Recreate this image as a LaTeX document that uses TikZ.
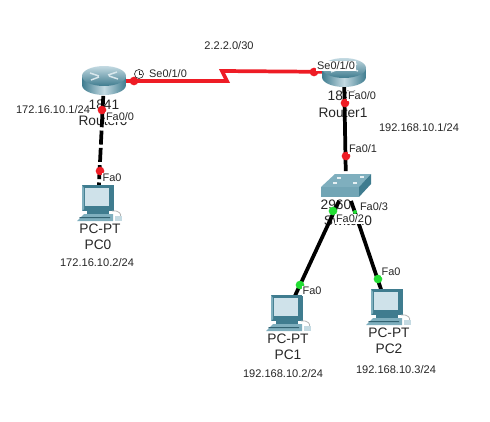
\documentclass[tikz,border=0pt]{standalone}
\usepackage{fontspec}
\setmainfont{Liberation Sans}
\usetikzlibrary{calc,positioning}
\definecolor{link_red}{HTML}{EE1C25}
\definecolor{port_green}{HTML}{22DD33}
\definecolor{dev_dark}{HTML}{3F7C8F}
\definecolor{dev_mid}{HTML}{7FAFBE}
\definecolor{dev_light}{HTML}{C4DAE2}
\definecolor{screen}{HTML}{CFE2EA}
\tikzset{
    DEVICE/.style={inner sep=0pt,minimum width=30pt,minimum height=22pt},
    NAME/.style={inner sep=0pt,font=\fontsize{10.3pt}{11pt}\selectfont,text=black!85},
    PORT/.style={inner sep=0.6pt,fill=white,font=\fontsize{8.2pt}{9pt}\selectfont,text=black!85},
    ADDR/.style={inner sep=0pt,font=\fontsize{8.3pt}{9pt}\selectfont,text=black!85},
    LINK/.style={line width=2.8pt,black},
    SERIAL/.style={line width=2.8pt,link_red},
    REDDOT/.style={circle,fill=link_red,inner sep=0pt,minimum size=6.5pt},
    GREENDOT/.style={circle,fill=port_green,inner sep=0pt,minimum size=6.5pt},
    router/.pic={
        \shade[left color=dev_dark,right color=dev_dark,middle color=dev_light] (-22,-9) -- (-22,0) arc[start angle=180,end angle=0,x radius=22,y radius=10] -- (22,-9) -- cycle;
        \shade[top color=dev_light,bottom color=dev_dark] (0,-9) ellipse[x radius=22,y radius=10];
        \draw[white!70!dev_mid,line width=1.1pt] (-14,-12) -- (-5,-9) (14,-6) -- (5,-9) (-13,-5) -- (-5,-8) (13,-13) -- (4,-10);
    },
    pcicon/.pic={
        % monitor
        \fill[dev_dark] (-16,-18) -- (16,-18) -- (16,8) -- (-16,8) -- cycle;
        \fill[dev_mid] (-16,-18) -- (-14,-15) -- (-14,6) -- (-16,8) -- cycle;
        \fill[screen] (-13,-15) rectangle (11,3);
        % base and keyboard
        \fill[dev_dark] (-11,8) rectangle (11,11);
        \fill[dev_mid] (-21,18) -- (-14,11) -- (15,11) -- (15,18) -- cycle;
        \fill[dev_dark!80!black] (-18,14) -- (12,14) -- (12,15) -- (-19,15) -- cycle;
        \draw[black!30,line width=0.6pt] (14,8) .. controls (22,7) and (24,12) .. (22,14);
        \fill[dev_light] (17,13) rectangle (24,18);
    },
}
\begin{document}
\begin{tikzpicture}[x=0.75pt,y=-0.75pt]
\useasboundingbox (0,0) rectangle (490,422);

\node[DEVICE] (n_router0) at (104,81) {};
\node[DEVICE] (n_router1) at (344,72) {};
\node[DEVICE] (n_switch) at (346,186) {};
\node[DEVICE] (n_pc0) at (98,203) {};
\node[DEVICE] (n_pc1) at (287,313) {};
\node[DEVICE] (n_pc2) at (387,307) {};

\node[NAME] (n_name_r0) at (104,105) {1841};
\node[NAME] (n_label_r0) at (103,121) {Router0};
\node[NAME] (n_name_r1) at (343,96) {1841};
\node[NAME] (n_label_r1) at (343,113) {Router1};
\node[NAME] (n_name_sw) at (336,205) {2960};
\node[NAME] (n_label_sw) at (348,221) {Switch0};
\node[NAME] (n_type_pc0) at (100,229) {PC-PT};
\node[NAME] (n_label_pc0) at (98,245) {PC0};
\node[NAME] (n_type_pc1) at (288,339) {PC-PT};
\node[NAME] (n_label_pc1) at (288,355) {PC1};
\node[NAME] (n_type_pc2) at (389,333) {PC-PT};
\node[NAME] (n_label_pc2) at (389,349) {PC2};

\coordinate (c_bend_a) at (227,82);
\coordinate (c_bend_b) at (222,71);
\draw[SERIAL] (n_router0) -- (n_router0-|c_bend_a) -- (c_bend_b) -- (n_router1);
\draw[LINK,dash pattern=on 10.5pt off 2.5pt] (n_router0) -- (n_pc0);
\draw[LINK] (n_router1) -- (n_switch);
\draw[LINK] (n_switch) -- (n_pc1);
\draw[LINK] (n_switch) -- (n_pc2);

\pic at (104,85) {router};
\pic at (344,77) {router};
\pic at (98,203) {pcicon};
\pic at (287,313) {pcicon};
\pic at (387,307) {pcicon};

% switch body
\fill[dev_mid] (321,187) -- (335,174) -- (371,174) -- (359,187) -- cycle;
\fill[dev_dark] (359,187) -- (371,174) -- (371,184) -- (359,197) -- cycle;
\fill[dev_mid!80!dev_dark] (321,187) rectangle (359,197);
\foreach \x/\y in {339/178,362/177,335/183,355/183}
    \fill[white!80!dev_mid] (\x-2,\y-1) rectangle (\x+2,\y+1);

\node[REDDOT] (n_dot_r0e) at (134,81) {};
\node[REDDOT] (n_dot_r1w) at (314,72) {};
\node[REDDOT] (n_dot_r0s) at (102,110) {};
\node[REDDOT] (n_dot_pc0) at (100,171) {};
\node[REDDOT] (n_dot_r1s) at (345,103) {};
\node[REDDOT] (n_dot_swn) at (346,156) {};
\node[GREENDOT] (n_dot_sw2) at (333,211) {};
\node[GREENDOT,minimum size=3pt] (n_dot_sw3) at (355,212) {};
\node[GREENDOT] (n_dot_pc1) at (300,285) {};
\node[GREENDOT] (n_dot_pc2) at (378,279) {};

\node[PORT] (n_port_r0e) at (168,74) {Se0/1/0};
\draw[black!80,line width=0.5pt] (139,74) circle[radius=4.5];
\draw[black!80,line width=0.5pt] (139,71) -- (139,74) -- (142,74);
\node[PORT] (n_port_r1w) at (336,66) {Se0/1/0};
\node[PORT] (n_port_r0s) at (120,117) {Fa0/0};
\node[PORT] (n_port_pc0) at (112,178) {Fa0};
\node[PORT] (n_port_r1s) at (362,96) {Fa0/0};
\node[PORT] (n_port_swn) at (363,149) {Fa0/1};
\node[PORT] (n_port_sw2) at (350,219) {Fa0/2};
\node[PORT] (n_port_sw3) at (374,207) {Fa0/3};
\node[PORT] (n_port_pc1) at (312,291) {Fa0};
\node[PORT] (n_port_pc2) at (391,272) {Fa0};

\node[ADDR] (n_addr_net) at (229,46) {2.2.2.0/30};
\node[ADDR] (n_addr_r0) at (53,110) {172.16.10.1/24};
\node[ADDR] (n_addr_r1) at (419,128) {192.168.10.1/24};
\node[ADDR] (n_addr_pc0) at (97,263) {172.16.10.2/24};
\node[ADDR] (n_addr_pc1) at (283,374) {192.168.10.2/24};
\node[ADDR] (n_addr_pc2) at (396,370) {192.168.10.3/24};

\end{tikzpicture}
\end{document}
